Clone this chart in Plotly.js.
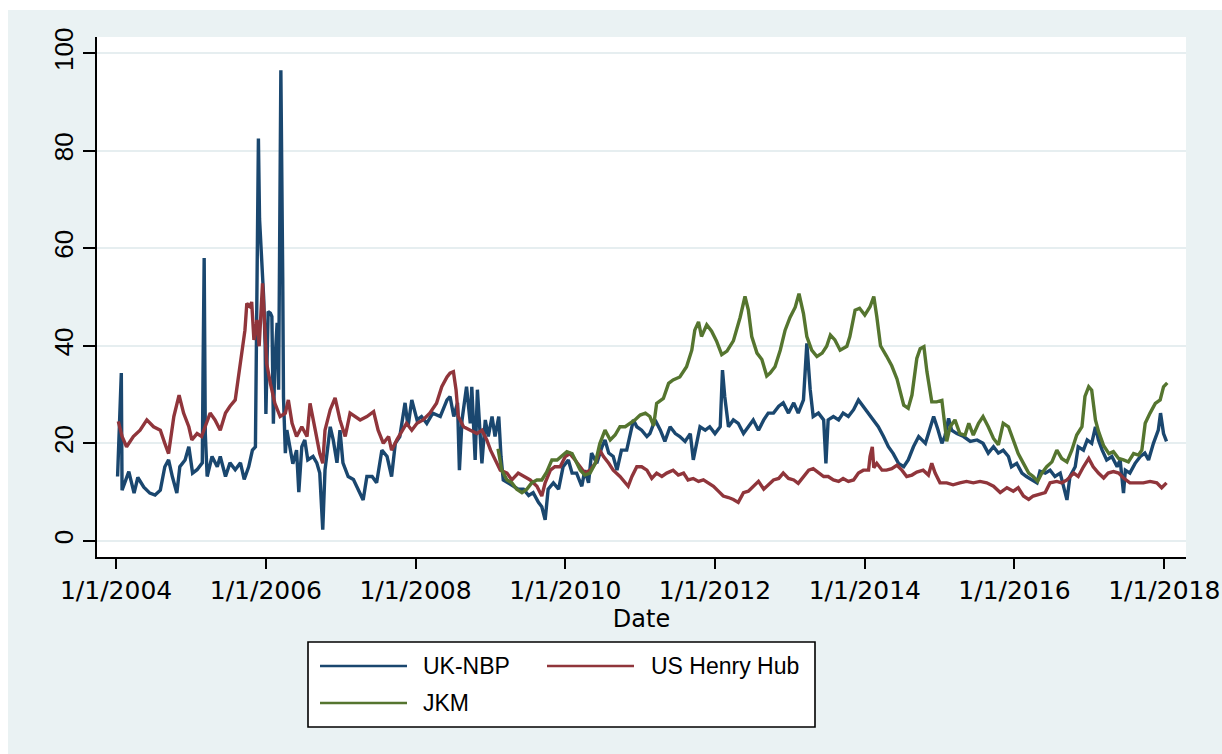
<!DOCTYPE html>
<html>
<head>
<meta charset="utf-8">
<script src="https://cdn.plot.ly/plotly-3.0.1.min.js"></script>
<style>
  html, body { margin: 0; padding: 0; background: #ffffff; }
  #chart { width: 1222px; height: 754px; }
</style>
</head>
<body>
<div id="chart"></div>
<script>
// ---- Data (decimal years, prices) ----
const nbpYears = [2004.02,2004.07,2004.08,2004.12,2004.17,2004.24,2004.29,2004.37,2004.45,2004.52,2004.59,2004.65,2004.70,2004.75,2004.81,2004.85,2004.92,2004.97,2005.02,2005.08,2005.15,2005.16,2005.175,2005.19,2005.215,2005.28,2005.35,2005.39,2005.46,2005.52,2005.59,2005.66,2005.71,2005.77,2005.82,2005.86,2005.87,2005.90,2005.915,2005.945,2005.97,2005.99,2006.00,2006.03,2006.06,2006.08,2006.10,2006.12,2006.15,2006.17,2006.19,2006.20,2006.225,2006.235,2006.26,2006.28,2006.32,2006.36,2006.41,2006.44,2006.48,2006.52,2006.56,2006.63,2006.68,2006.72,2006.76,2006.79,2006.86,2006.90,2006.95,2006.99,2007.03,2007.10,2007.17,2007.23,2007.30,2007.35,2007.42,2007.48,2007.55,2007.62,2007.68,2007.73,2007.79,2007.86,2007.90,2007.95,2008.02,2008.08,2008.15,2008.23,2008.33,2008.42,2008.46,2008.51,2008.56,2008.585,2008.62,2008.68,2008.73,2008.75,2008.795,2008.825,2008.86,2008.885,2008.93,2008.97,2009.02,2009.06,2009.11,2009.14,2009.17,2009.24,2009.31,2009.37,2009.44,2009.51,2009.57,2009.64,2009.685,2009.73,2009.77,2009.84,2009.91,2009.97,2010.04,2010.09,2010.15,2010.22,2010.26,2010.31,2010.35,2010.42,2010.49,2010.53,2010.58,2010.64,2010.69,2010.75,2010.82,2010.865,2010.91,2010.955,2011.02,2011.09,2011.13,2011.20,2011.27,2011.33,2011.40,2011.47,2011.53,2011.60,2011.67,2011.71,2011.76,2011.80,2011.87,2011.93,2012.00,2012.07,2012.10,2012.13,2012.18,2012.245,2012.31,2012.38,2012.445,2012.51,2012.58,2012.65,2012.71,2012.78,2012.85,2012.91,2012.98,2013.05,2013.11,2013.18,2013.225,2013.27,2013.31,2013.38,2013.45,2013.48,2013.51,2013.58,2013.65,2013.71,2013.78,2013.85,2013.915,2013.98,2014.05,2014.115,2014.18,2014.25,2014.315,2014.38,2014.45,2014.52,2014.58,2014.65,2014.72,2014.81,2014.85,2014.92,2014.98,2015.03,2015.07,2015.12,2015.16,2015.23,2015.32,2015.41,2015.50,2015.58,2015.65,2015.72,2015.785,2015.85,2015.92,2015.96,2016.03,2016.10,2016.16,2016.23,2016.30,2016.34,2016.41,2016.475,2016.54,2016.61,2016.65,2016.70,2016.74,2016.81,2016.85,2016.92,2016.97,2017.03,2017.08,2017.12,2017.17,2017.23,2017.30,2017.37,2017.41,2017.455,2017.48,2017.54,2017.61,2017.68,2017.74,2017.79,2017.855,2017.92,2017.95,2017.99,2018.03];
const nbpValues = [13.2,34.4,10.4,12.0,14.2,9.8,13.0,11.0,9.8,9.4,10.4,15.2,16.6,13.2,9.8,15.2,16.6,19.3,13.9,14.6,16.0,35.0,58.0,22.0,13.2,17.3,15.2,17.3,13.2,16.0,14.6,16.0,12.6,15.2,18.6,19.3,39.0,82.5,66.0,58.0,50.0,40.0,26.0,47.0,46.7,46.0,24.0,36.5,44.7,31.0,66.0,96.5,54.0,29.5,18.0,22.7,19.3,15.8,18.6,10.0,19.3,20.7,16.6,17.3,16.0,13.9,2.3,14.5,23.4,20.7,16.0,22.7,16.0,13.2,12.6,10.6,8.4,13.2,13.2,11.9,18.6,17.3,13.2,20.0,21.4,28.3,23.4,28.9,24.8,25.5,24.1,26.2,25.5,28.9,29.6,25.5,28.3,14.5,24.8,31.6,24.1,31.6,16.6,31.0,21.4,15.9,24.8,21.4,25.5,21.4,25.5,17.3,12.5,11.9,11.2,10.6,10.6,9.3,9.9,7.9,7.0,4.3,10.6,11.9,10.6,15.2,16.6,13.9,13.9,11.2,14.5,11.9,18.0,15.9,19.3,20.7,18.0,17.3,14.5,18.6,18.6,21.4,24.8,23.4,22.7,21.4,22.0,24.8,22.7,20.4,23.4,22.0,21.4,20.4,22.0,16.6,20.0,23.4,22.7,23.4,22.0,23.4,35.0,29.6,23.4,24.8,24.1,22.0,23.4,24.8,22.7,24.8,26.2,26.2,27.6,28.3,26.2,28.3,26.2,28.9,40.5,31.0,25.5,26.2,24.8,15.9,24.8,25.5,24.8,26.2,25.5,26.9,28.9,27.6,26.2,24.8,23.4,21.4,19.3,17.9,15.9,15.2,16.6,19.3,21.4,20.0,22.0,25.5,22.7,20.0,21.4,25.1,22.7,22.0,21.4,20.4,20.7,20.0,18.0,19.3,18.0,18.6,17.3,15.2,15.9,13.9,13.2,12.6,11.9,14.3,13.9,14.5,13.2,13.9,11.2,8.4,13.2,15.2,19.3,18.6,20.7,20.0,23.4,20.7,18.6,16.6,17.3,15.2,16.6,9.8,14.5,13.9,15.9,17.3,18.0,16.6,20.0,22.7,26.2,22.0,20.4];

const hhYears = [2004.03,2004.08,2004.14,2004.23,2004.32,2004.41,2004.50,2004.59,2004.65,2004.70,2004.77,2004.84,2004.90,2004.97,2005.01,2005.08,2005.14,2005.21,2005.255,2005.32,2005.39,2005.46,2005.52,2005.59,2005.63,2005.68,2005.72,2005.745,2005.79,2005.81,2005.84,2005.88,2005.91,2005.955,2005.98,2006.01,2006.06,2006.12,2006.19,2006.26,2006.30,2006.35,2006.41,2006.48,2006.55,2006.59,2006.66,2006.72,2006.76,2006.79,2006.86,2006.925,2006.99,2007.06,2007.125,2007.19,2007.26,2007.35,2007.44,2007.50,2007.57,2007.64,2007.68,2007.75,2007.82,2007.88,2007.95,2008.02,2008.10,2008.19,2008.28,2008.35,2008.42,2008.46,2008.505,2008.54,2008.57,2008.64,2008.73,2008.82,2008.885,2008.95,2009.00,2009.06,2009.13,2009.22,2009.285,2009.37,2009.44,2009.53,2009.62,2009.685,2009.73,2009.80,2009.86,2009.93,2010.00,2010.06,2010.13,2010.20,2010.26,2010.33,2010.40,2010.46,2010.51,2010.58,2010.64,2010.73,2010.80,2010.84,2010.89,2010.955,2011.02,2011.09,2011.155,2011.22,2011.29,2011.355,2011.44,2011.51,2011.58,2011.64,2011.71,2011.78,2011.845,2011.91,2011.98,2012.045,2012.11,2012.18,2012.245,2012.31,2012.38,2012.445,2012.51,2012.58,2012.65,2012.71,2012.78,2012.85,2012.91,2012.98,2013.05,2013.11,2013.18,2013.25,2013.31,2013.38,2013.45,2013.51,2013.58,2013.65,2013.71,2013.78,2013.85,2013.915,2013.98,2014.05,2014.07,2014.10,2014.12,2014.16,2014.23,2014.29,2014.36,2014.43,2014.495,2014.56,2014.63,2014.695,2014.78,2014.85,2014.895,2014.94,2015.005,2015.095,2015.18,2015.27,2015.36,2015.45,2015.54,2015.63,2015.72,2015.81,2015.90,2015.985,2016.05,2016.12,2016.19,2016.25,2016.34,2016.41,2016.475,2016.565,2016.63,2016.70,2016.79,2016.85,2016.92,2016.99,2017.05,2017.12,2017.19,2017.25,2017.32,2017.39,2017.455,2017.54,2017.63,2017.72,2017.81,2017.90,2017.965,2018.03];
const hhValues = [24.5,21.4,19.3,21.4,22.7,24.8,23.4,22.7,20.0,17.9,25.5,29.9,26.2,23.4,20.7,22.0,21.4,24.1,26.2,24.8,22.7,26.2,27.6,28.9,33.0,38.5,43.2,48.7,48.0,49.0,41.2,45.3,39.9,52.8,45.3,36.4,32.3,28.2,25.5,26.2,28.9,24.1,21.4,23.4,21.4,28.2,22.7,17.9,15.9,22.7,26.9,29.3,24.8,21.4,26.2,25.5,24.8,25.5,26.5,22.7,20.0,21.4,18.6,20.7,22.7,24.1,22.7,24.1,24.8,26.2,28.2,31.6,33.6,34.4,34.7,31.0,25.5,23.4,22.7,22.0,22.7,20.7,18.6,16.6,14.5,13.9,12.5,13.9,13.2,12.5,11.2,9.2,11.9,14.5,15.2,15.2,17.3,17.9,16.6,15.2,13.9,14.5,15.9,18.6,17.3,15.9,14.5,13.2,11.9,11.2,13.2,15.2,15.2,14.5,12.8,13.9,13.2,13.9,14.5,13.5,13.9,12.5,12.8,12.2,12.5,11.8,11.2,10.2,9.2,8.9,8.5,7.9,9.9,10.2,11.2,12.2,10.6,11.5,12.5,12.8,13.9,12.8,12.5,11.8,13.2,14.5,14.8,14.1,13.2,13.2,12.5,12.2,12.8,12.2,12.5,13.9,14.5,14.5,17.3,19.3,15.0,15.9,14.5,14.5,14.8,15.5,14.5,13.2,13.5,14.1,14.5,13.5,15.9,13.9,11.9,11.9,11.5,11.9,12.2,11.9,12.2,11.9,11.2,9.9,10.9,10.2,10.9,9.2,8.5,9.2,9.6,9.9,11.9,12.2,11.9,12.5,13.9,13.2,15.2,16.9,15.2,13.9,12.9,13.9,14.2,13.9,12.9,11.9,11.9,11.9,12.2,11.9,10.9,11.9];

const jkmYears = [2009.10,2009.15,2009.22,2009.285,2009.35,2009.42,2009.485,2009.55,2009.62,2009.685,2009.75,2009.82,2009.89,2009.95,2010.02,2010.09,2010.13,2010.20,2010.26,2010.33,2010.40,2010.46,2010.53,2010.60,2010.665,2010.73,2010.80,2010.865,2010.93,2011.00,2011.07,2011.13,2011.18,2011.22,2011.31,2011.38,2011.44,2011.53,2011.62,2011.69,2011.73,2011.78,2011.82,2011.89,2011.955,2012.02,2012.09,2012.16,2012.245,2012.335,2012.40,2012.445,2012.49,2012.56,2012.625,2012.69,2012.735,2012.80,2012.87,2012.935,2013.00,2013.07,2013.12,2013.18,2013.225,2013.29,2013.36,2013.43,2013.49,2013.54,2013.60,2013.67,2013.76,2013.80,2013.87,2013.93,2014.00,2014.07,2014.12,2014.16,2014.21,2014.29,2014.36,2014.43,2014.52,2014.58,2014.63,2014.695,2014.74,2014.79,2014.83,2014.895,2014.96,2015.03,2015.07,2015.095,2015.14,2015.205,2015.27,2015.34,2015.39,2015.45,2015.52,2015.58,2015.65,2015.72,2015.785,2015.85,2015.92,2015.985,2016.05,2016.12,2016.19,2016.25,2016.31,2016.365,2016.43,2016.50,2016.565,2016.63,2016.70,2016.765,2016.83,2016.90,2016.94,2016.99,2017.03,2017.08,2017.12,2017.19,2017.26,2017.32,2017.39,2017.455,2017.52,2017.59,2017.655,2017.70,2017.745,2017.81,2017.88,2017.945,2017.99,2018.04];
const jkmValues = [18.9,14.5,12.5,11.9,10.6,9.9,10.6,11.9,12.5,12.5,14.1,16.6,16.6,17.3,18.3,17.9,16.6,14.5,13.5,13.9,15.9,19.9,22.7,20.7,21.7,23.4,23.4,24.1,24.8,25.8,26.2,25.5,23.6,28.2,29.2,32.3,33.0,33.6,35.7,39.1,43.2,44.9,41.9,44.3,43.0,41.0,38.2,38.9,41.0,45.8,50.1,47.3,41.9,38.5,37.2,33.8,34.4,35.7,39.1,43.2,45.8,47.9,50.7,46.6,41.9,39.1,37.8,38.5,39.9,42.2,41.2,39.1,39.9,41.9,47.3,47.7,46.3,48.0,50.1,46.0,40.0,37.9,35.9,33.2,27.8,27.2,29.9,37.4,39.4,39.8,34.7,28.5,28.5,28.8,24.4,20.4,23.4,24.8,22.0,21.7,24.1,21.7,24.1,25.5,23.4,21.0,19.7,24.1,23.4,20.7,17.9,15.9,13.9,13.2,12.2,13.9,15.2,16.2,18.6,16.9,16.2,18.6,21.7,23.4,29.6,31.6,30.9,24.8,22.5,19.5,17.9,18.3,16.9,16.6,16.2,17.9,17.6,18.6,24.1,26.2,28.2,28.9,31.6,32.4];

const seriesNames = ['UK-NBP', 'US Henry Hub', 'JKM'];
const seriesColors = ['#1a476f', '#90353b', '#55752f'];
const tickYears = [2004, 2006, 2008, 2010, 2012, 2014, 2016, 2018];
const tickLabels = ['1/1/2004','1/1/2006','1/1/2008','1/1/2010','1/1/2012','1/1/2014','1/1/2016','1/1/2018'];
const yTicks = [0, 20, 40, 60, 80, 100];
const xAxisTitle = 'Date';

// decimal year -> ISO date string
function toDate(y) {
  const yr = Math.floor(y);
  const s = Date.UTC(yr, 0, 1), e = Date.UTC(yr + 1, 0, 1);
  return new Date(s + (y - yr) * (e - s)).toISOString().slice(0, 19);
}

const allYears = [nbpYears, hhYears, jkmYears];
const allValues = [nbpValues, hhValues, jkmValues];

const traces = allYears.map((ys, i) => ({
  type: 'scatter',
  mode: 'lines',
  name: seriesNames[i],
  x: ys.map(toDate),
  y: allValues[i],
  line: { color: seriesColors[i], width: 3.4 },
  showlegend: false,
  hoverinfo: 'x+y+name'
}));

// plot-area pixel geometry -> paper coords helpers
const L = 97, R = 36, T = 37, B = 197, W = 1222, H = 754;
const PW = W - L - R, PH = H - T - B;
const px = v => (v - L) / PW;
const py = v => (H - B - v) / PH;

const legendRowY = [666, 703];
const legendCols = [{line: [320, 407], text: 421}, {line: [547, 634], text: 649}];
const legendSlots = [[0, 0], [0, 1], [1, 0]]; // [row, col] per series

const shapes = [
  // white outer border strips (left / top)
  {type: 'rect', xref: 'paper', yref: 'paper', x0: px(-20), x1: px(8), y0: py(800), y1: py(-20),
   fillcolor: '#ffffff', line: {width: 0}, layer: 'below'},
  {type: 'rect', xref: 'paper', yref: 'paper', x0: px(-20), x1: px(1240), y0: py(10), y1: py(-20),
   fillcolor: '#ffffff', line: {width: 0}, layer: 'below'},
  // legend box
  {type: 'rect', xref: 'paper', yref: 'paper', x0: px(308), x1: px(815), y0: py(727), y1: py(642),
   fillcolor: '#ffffff', line: {color: '#000000', width: 1.6}}
];
const annotations = [];
legendSlots.forEach(([r, c], i) => {
  const col = legendCols[c];
  shapes.push({type: 'line', xref: 'paper', yref: 'paper',
    x0: px(col.line[0]), x1: px(col.line[1]), y0: py(legendRowY[r]), y1: py(legendRowY[r]),
    line: {color: seriesColors[i], width: 2.6}});
  annotations.push({xref: 'paper', yref: 'paper', x: px(col.text), y: py(legendRowY[r]),
    xanchor: 'left', yanchor: 'middle', showarrow: false, text: seriesNames[i],
    font: {family: 'Liberation Sans, Arial, sans-serif', size: 23, color: '#000000'}});
});

const layout = {
  width: W, height: H,
  margin: {l: L, r: R, t: T, b: B, pad: 0},
  paper_bgcolor: '#eaf2f3',
  plot_bgcolor: '#ffffff',
  showlegend: false,
  xaxis: {
    type: 'date',
    range: ['2003-09-30', '2018-04-17'],
    tickmode: 'array',
    tickvals: tickYears.map(toDate),
    ticktext: tickLabels,
    ticks: 'outside', ticklen: 10, tickwidth: 2, tickcolor: '#000000',
    showline: true, linecolor: '#000000', linewidth: 2,
    showgrid: false, zeroline: false,
    tickfont: {family: 'DejaVu Sans, Arial, sans-serif', size: 25, color: '#000000'},
    title: {text: xAxisTitle, standoff: 0,
            font: {family: 'DejaVu Sans, Arial, sans-serif', size: 24, color: '#000000'}}
  },
  yaxis: {
    range: [-3.3, 103.3],
    tickmode: 'array',
    tickvals: yTicks,
    ticktext: yTicks.map(String),
    tickangle: -90,
    ticks: 'outside', ticklen: 12, tickwidth: 2, tickcolor: '#000000',
    showline: true, linecolor: '#000000', linewidth: 2,
    showgrid: true, gridcolor: '#e6eef0', gridwidth: 2,
    zeroline: false,
    tickfont: {family: 'Liberation Sans, Arial, sans-serif', size: 26, color: '#000000'}
  },
  shapes: shapes,
  annotations: annotations
};

Plotly.newPlot('chart', traces, layout, {displayModeBar: false, staticPlot: true});
</script>
</body>
</html>
